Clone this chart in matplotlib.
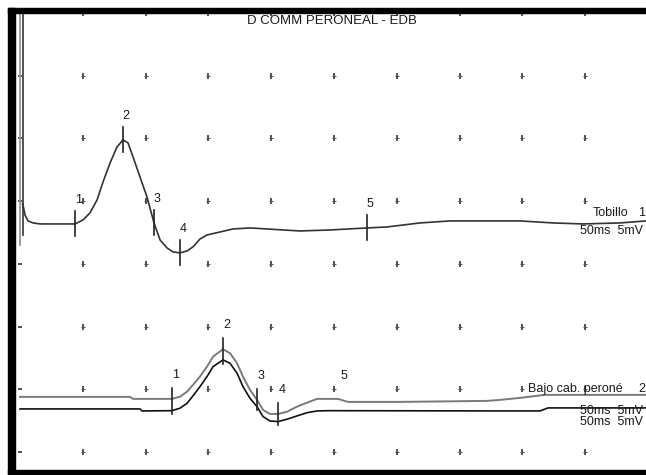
import numpy as np
import matplotlib
matplotlib.use('Agg')
import matplotlib.pyplot as plt
from matplotlib.patches import Rectangle

plt.rcParams['font.family'] = ['Liberation Sans', 'DejaVu Sans']

# time in ms (5 ms / div), amplitude in mV (5 mV / div)
title = 'D COMM PERONEAL - EDB'

# Tobillo (ankle) trace, relative to its baseline
top_t = [0.24, 0.40, 0.64, 1.04, 1.60, 4.38, 5.02, 5.57, 6.13, 6.61,
         7.17, 7.72, 8.20, 8.60, 9.00, 9.55, 10.11, 10.67, 11.15, 11.70,
         12.18, 12.74, 13.30, 13.77, 14.33, 14.89, 15.92, 16.96, 18.31, 19.67,
         20.94, 22.29, 24.68, 27.63, 29.22, 31.85, 34.24, 39.81, 42.44, 44.82,
         47.77, 49.84]
top_v = [1.5, 0.7, 0.24, 0.08, 0.0, 0.0, 0.32, 0.88, 1.91, 3.35,
         4.86, 6.14, 6.70, 6.46, 5.34, 3.75, 2.15, 0.08, -1.28, -1.91,
         -2.23, -2.31, -2.15, -1.83, -1.20, -0.88, -0.64, -0.40, -0.32, -0.40,
         -0.48, -0.56, -0.48, -0.32, -0.24, 0.08, 0.24, 0.24, 0.08, 0.0,
         0.08, 0.24]
top_base = 18.18
top_marks = [4.38, 8.20, 10.67, 12.74, 27.63]
artifact_low = [-1.7, -0.9]   # ends of the two stimulus artifact lines

# Bajo cab. perone, two superimposed traces
bot_a_t = [0.0, 8.76, 9.00, 12.10, 12.74, 13.30, 13.77, 14.33, 14.89, 15.37,
           16.16, 16.72, 17.28, 17.75, 18.31, 18.87, 19.35, 19.90, 20.54, 21.26,
           22.05, 22.85, 23.65, 25.32, 26.11, 30.25, 37.18, 38.22, 39.81, 41.80,
           49.84]
bot_a_v = [0.0, 0.0, -0.16, -0.16, 0.02, 0.42, 0.96, 1.62, 2.42, 3.21,
           3.80, 3.48, 2.68, 1.62, 0.56, -0.24, -1.04, -1.36, -1.36, -1.18,
           -0.78, -0.46, -0.16, -0.16, -0.40, -0.40, -0.32, -0.24, -0.08, 0.16,
           0.16]
bot_b_t = [0.0, 9.55, 9.71, 12.10, 12.74, 13.30, 13.77, 14.33, 14.89, 15.37,
           16.16, 16.72, 17.28, 17.75, 18.31, 18.87, 19.35, 19.90, 20.54, 21.26,
           22.05, 22.85, 23.65, 24.68, 38.22, 41.40, 42.04, 49.84]
bot_b_v = [0.0, 0.0, -0.16, -0.14, 0.06, 0.45, 1.04, 1.78, 2.58, 3.37,
           3.91, 3.64, 2.85, 1.78, 0.85, 0.18, -0.61, -0.96, -1.01, -0.82,
           -0.56, -0.30, -0.16, -0.14, -0.16, -0.16, 0.08, 0.08]
bot_a_base = 4.39
bot_b_base = 3.43
bot_marks = [12.10, 16.16, 18.87, 20.54]
bot_label5 = 25.5

mark_labels = ['1', '2', '3', '4', '5']
grid_x = np.arange(0, 50, 5)
grid_y = np.arange(0, 40, 5)

W, H = 646, 475
fig = plt.figure(figsize=(W / 100, H / 100), dpi=100)
ax = fig.add_axes([15 / W, 5 / H, (W - 15) / W, 457 / H])
ax.set_xlim(-0.40, 49.84)
ax.set_ylim(-1.44, 35.0)
ax.axis('off')

# grid dots
gx, gy = np.meshgrid(grid_x[1:], grid_y)
ax.plot(gx.ravel(), gy.ravel(), '|', ms=4.5, mew=1.2, color='#333333')
ax.plot(gx.ravel(), gy.ravel(), '_', ms=2.5, mew=0.8, color='#555555')
ax.plot(np.zeros_like(grid_y), grid_y, '_', ms=3, mew=1.2, color='#333333')

txt = dict(fontsize=9, color='#1a1a1a')

# top trace
ax.plot([0.0, 0.0], [35.0, top_base + artifact_low[0]], color='#999999', lw=1.3)
ax.plot([0.2, 0.2], [35.0, top_base + artifact_low[1]], color='#444444', lw=1.3)
ax.plot([0.2] + top_t, np.array([1.6] + top_v) + top_base, color='#333333', lw=1.2)
for lab, t in zip(mark_labels, top_marks):
    v = np.interp(t, top_t, top_v) + top_base
    ax.plot([t, t], [v - 1.0, v + 1.0], color='#222222', lw=1.2)
    ax.text(t + 0.25, v + 1.9, lab, ha='center', va='center', **txt)

# bottom traces
ax.plot(bot_a_t, np.array(bot_a_v) + bot_a_base, color='#7a7a7a', lw=1.4)
ax.plot(bot_b_t, np.array(bot_b_v) + bot_b_base, color='#111111', lw=1.2)
for lab, t in zip(mark_labels, bot_marks):
    va = np.interp(t, bot_a_t, bot_a_v) + bot_a_base
    vb = np.interp(t, bot_b_t, bot_b_v) + bot_b_base
    ax.plot([t, t], [vb - 0.3, va + 0.9], color='#222222', lw=1.2)
    ax.text(t + 0.3, va + 1.9, lab, ha='center', va='center', **txt)
v5 = np.interp(bot_label5, bot_a_t, bot_a_v) + bot_a_base
ax.text(bot_label5 + 0.3, v5 + 1.9, mark_labels[4], ha='center', va='center', **txt)

# annotations
ax.text(24.84, 34.37, title, ha='center', va='center', fontsize=9.5, color='#1a1a1a')
ax.text(45.62, 19.06, 'Tobillo', ha='left', va='center', **txt)
ax.text(49.2, 19.06, '1', ha='left', va='center', **txt)
ax.text(44.59, 17.62, '50ms  5mV', ha='left', va='center', **txt)
ax.text(40.45, 5.02, 'Bajo cab. peroné', ha='left', va='center', **txt)
ax.text(49.2, 5.02, '2', ha='left', va='center', **txt)
ax.text(44.59, 3.27, '50ms  5mV', ha='left', va='center', **txt)
ax.text(44.59, 2.39, '50ms  5mV', ha='left', va='center', **txt)

# black frame (left, top, bottom)
def frame(x0, y0, x1, y1):
    fig.add_artist(Rectangle((x0 / W, 1 - y1 / H), (x1 - x0) / W, (y1 - y0) / H,
                             transform=fig.transFigure, color='black', zorder=10))

frame(8, 8, 15, 474)
frame(8, 8, W, 13)
frame(8, 470, W, 474)

fig.savefig('out.png', dpi=100)
